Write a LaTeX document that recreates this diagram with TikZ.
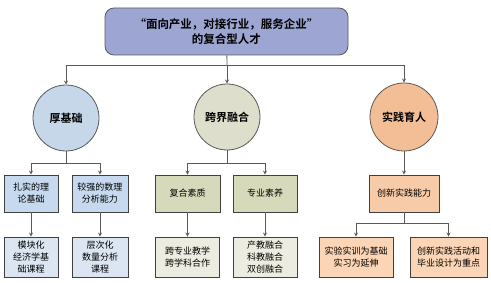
\documentclass[tikz,border=0pt]{standalone}
\usepackage{fontspec}
\setmainfont{Liberation Sans}
\newfontfamily\cjk{Noto Sans CJK SC}
\newfontfamily\cjkbold{Noto Sans CJK SC Bold}
\usepackage{tikz}
\usetikzlibrary{calc,positioning}
\definecolor{LineGray}{HTML}{595959}
\definecolor{EdgeDark}{HTML}{404040}
\definecolor{TopLilac}{HTML}{9DA5D2}
\definecolor{BlueCirc}{HTML}{C5D7E8}
\definecolor{BlueMid}{HTML}{C6D9EE}
\definecolor{BlueLow}{HTML}{DCE6F2}
\definecolor{OliveCirc}{HTML}{DDDECB}
\definecolor{OliveMid}{HTML}{D7D9BB}
\definecolor{OliveLow}{HTML}{ECECE0}
\definecolor{PeachCirc}{HTML}{F3BE95}
\definecolor{PeachMid}{HTML}{F8CBA8}
\definecolor{PeachLow}{HTML}{FBD5B5}
\tikzset{
  pillar/.style={circle, draw=LineGray, thick, minimum size=66pt, inner sep=0pt,
    font=\cjkbold\fontsize{11}{13}\selectfont},
  itembox/.style={rectangle, draw=EdgeDark, thick, inner sep=1pt, align=center,
    font=\cjk\fontsize{9}{12}\selectfont},
  link/.style={LineGray, thick},
  arr/.style={LineGray, thick, ->, >=stealth}
}
\begin{document}
\begin{tikzpicture}[x=1pt, y=-1pt]
  \useasboundingbox (0,0) rectangle (491,283);

  % Goal box
  \node[rectangle, rounded corners=9pt, draw=LineGray, thick, fill=TopLilac,
    minimum width=243pt, minimum height=47pt, align=center,
    font=\cjkbold\fontsize{11.5}{15}\selectfont] (goal) at (226.5,31.5)
    {“面向产业，对接行业，服务企业”\\的复合型人才};

  % Three pillars
  \node[pillar, fill=BlueCirc] (base) at (66,118) {厚基础};
  \node[pillar, fill=OliveCirc] (cross) at (227,117) {跨界融合};
  \node[pillar, fill=PeachCirc, minimum size=68pt] (prac) at (404,117) {实践育人};

  \coordinate (split) at (227,65);
  \draw[link] (goal) -- (split);
  \draw[arr] (split) -| (base);
  \draw[arr] (split) -- (cross);
  \draw[arr] (split) -| (prac);

  % Left branch
  \node[itembox, fill=BlueMid, minimum width=54pt, minimum height=37pt] (theory) at (31,193.5) {扎实的理\\论基础};
  \node[itembox, fill=BlueMid, minimum width=56pt, minimum height=37pt] (math) at (100,193.5) {较强的数理\\分析能力};
  \node[itembox, fill=BlueLow, minimum width=54pt, minimum height=40pt] (econ) at (31,257) {模块化\\经济学基\\础课程};
  \node[itembox, fill=BlueLow, minimum width=56pt, minimum height=40pt] (quant) at (100,257) {层次化\\数量分析\\课程};

  \coordinate (baseSplit) at (66,163);
  \draw[link] (base) -- (baseSplit);
  \draw[arr] (baseSplit) -| (theory);
  \draw[arr] (baseSplit) -| (math);
  \draw[arr] (theory) -- (econ);
  \draw[arr] (math) -- (quant);

  % Middle branch
  \node[itembox, fill=OliveMid, minimum width=65pt, minimum height=37pt] (quality) at (187.5,193.5) {复合素质};
  \node[itembox, fill=OliveMid, minimum width=64pt, minimum height=37pt] (literacy) at (265,193.5) {专业素养};
  \node[itembox, fill=OliveLow, minimum width=64pt, minimum height=40pt] (teach) at (187.5,257) {跨专业教学\\跨学科合作};
  \node[itembox, fill=OliveLow, minimum width=64pt, minimum height=40pt] (merge) at (265,257) {产教融合\\科教融合\\双创融合};

  \coordinate (crossSplit) at (227,163);
  \draw[link] (cross) -- (crossSplit);
  \draw[arr] (crossSplit) -| (quality);
  \draw[arr] (crossSplit) -| (literacy);
  \draw[arr] (quality) -- (teach);
  \draw[arr] (literacy) -- (merge);

  % Right branch
  \node[itembox, fill=PeachMid, minimum width=70pt, minimum height=37pt] (innov) at (404,193.5) {创新实践能力};
  \node[itembox, fill=PeachLow, minimum width=74pt, minimum height=40pt] (train) at (356,257) {实验实训为基础\\实习为延伸};
  \node[itembox, fill=PeachLow, minimum width=77pt, minimum height=40pt] (design) at (448.5,257) {创新实践活动和\\毕业设计为重点};

  \coordinate (pracSplit) at (404,223);
  \draw[arr] (prac) -- (innov);
  \draw[link] (innov) -- (pracSplit);
  \draw[arr] (pracSplit) -| (train);
  \draw[arr] (pracSplit) -| (design);
\end{tikzpicture}
\end{document}
